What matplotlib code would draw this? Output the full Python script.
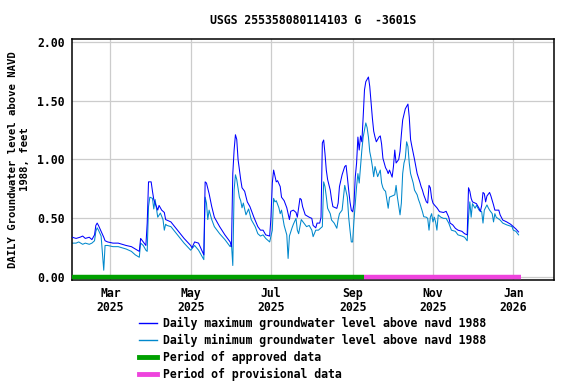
import matplotlib
matplotlib.use("Agg")
import matplotlib.pyplot as plt
from matplotlib.lines import Line2D
import pandas as pd

TITLE = "USGS 255358080114103 G  -3601S"
YLABEL = "DAILY Groundwater level above NAVD\n1988, feet"

# daily maximum
max_dates = [
    "2025-01-31", "2025-02-03", "2025-02-06", "2025-02-08", "2025-02-10", "2025-02-13",
    "2025-02-15", "2025-02-17", "2025-02-18", "2025-02-19", "2025-02-20", "2025-02-22",
    "2025-02-24", "2025-02-25", "2025-02-27", "2025-03-03", "2025-03-07", "2025-03-10",
    "2025-03-13", "2025-03-17", "2025-03-20", "2025-03-23", "2025-03-24", "2025-03-26",
    "2025-03-28", "2025-03-29", "2025-03-30", "2025-04-01", "2025-04-02", "2025-04-03",
    "2025-04-04", "2025-04-06", "2025-04-07", "2025-04-09", "2025-04-11", "2025-04-12",
    "2025-04-16", "2025-04-21", "2025-04-26", "2025-05-01", "2025-05-02", "2025-05-04",
    "2025-05-07", "2025-05-09", "2025-05-11", "2025-05-12", "2025-05-13", "2025-05-15",
    "2025-05-17", "2025-05-19", "2025-05-23", "2025-05-27", "2025-05-31", "2025-06-01",
    "2025-06-02", "2025-06-03", "2025-06-04", "2025-06-05", "2025-06-06", "2025-06-08",
    "2025-06-09", "2025-06-11", "2025-06-13", "2025-06-15", "2025-06-18", "2025-06-21",
    "2025-06-23", "2025-06-25", "2025-06-27", "2025-06-30", "2025-07-01", "2025-07-02",
    "2025-07-03", "2025-07-05", "2025-07-06", "2025-07-08", "2025-07-09", "2025-07-11",
    "2025-07-13", "2025-07-14", "2025-07-15", "2025-07-16", "2025-07-18", "2025-07-20",
    "2025-07-21", "2025-07-23", "2025-07-24", "2025-07-25", "2025-07-27", "2025-07-30",
    "2025-08-01", "2025-08-02", "2025-08-04", "2025-08-05", "2025-08-07", "2025-08-08",
    "2025-08-09", "2025-08-10", "2025-08-11", "2025-08-12", "2025-08-13", "2025-08-15",
    "2025-08-16", "2025-08-17", "2025-08-20", "2025-08-21", "2025-08-22", "2025-08-24",
    "2025-08-26", "2025-08-27", "2025-08-28", "2025-08-29", "2025-08-30", "2025-08-31",
    "2025-09-01", "2025-09-02", "2025-09-03", "2025-09-04", "2025-09-05", "2025-09-06",
    "2025-09-07", "2025-09-08", "2025-09-09", "2025-09-10", "2025-09-11", "2025-09-12",
    "2025-09-13", "2025-09-14", "2025-09-15", "2025-09-16", "2025-09-17", "2025-09-18",
    "2025-09-19", "2025-09-21", "2025-09-22", "2025-09-23", "2025-09-24", "2025-09-26",
    "2025-09-27", "2025-09-28", "2025-09-29", "2025-10-01", "2025-10-02", "2025-10-03",
    "2025-10-04", "2025-10-06", "2025-10-07", "2025-10-08", "2025-10-09", "2025-10-11",
    "2025-10-12", "2025-10-13", "2025-10-14", "2025-10-15", "2025-10-16", "2025-10-18",
    "2025-10-19", "2025-10-20", "2025-10-22", "2025-10-23", "2025-10-24", "2025-10-25",
    "2025-10-27", "2025-10-28", "2025-10-29", "2025-10-30", "2025-10-31", "2025-11-01",
    "2025-11-02", "2025-11-04", "2025-11-06", "2025-11-09", "2025-11-11", "2025-11-13",
    "2025-11-14", "2025-11-16", "2025-11-18", "2025-11-20", "2025-11-23", "2025-11-25",
    "2025-11-27", "2025-11-28", "2025-11-29", "2025-11-30", "2025-12-01", "2025-12-04",
    "2025-12-06", "2025-12-07", "2025-12-08", "2025-12-09", "2025-12-10", "2025-12-11",
    "2025-12-12", "2025-12-14", "2025-12-15", "2025-12-17", "2025-12-18", "2025-12-21",
    "2025-12-22", "2025-12-24", "2025-12-27", "2025-12-30", "2026-01-01", "2026-01-03",
    "2026-01-05",
]
max_vals = [
    0.34, 0.33, 0.34, 0.35, 0.33, 0.34,
    0.32, 0.36, 0.44, 0.46, 0.44, 0.39,
    0.34, 0.31, 0.30, 0.29, 0.29, 0.28,
    0.27, 0.26, 0.24, 0.22, 0.33, 0.30,
    0.27, 0.46, 0.81, 0.81, 0.73, 0.66,
    0.63, 0.57, 0.61, 0.57, 0.55, 0.49,
    0.47, 0.40, 0.33, 0.27, 0.25, 0.30,
    0.29, 0.24, 0.19, 0.81, 0.80, 0.71,
    0.60, 0.51, 0.43, 0.36, 0.30, 0.26,
    0.88, 1.08, 1.21, 1.17, 1.00, 0.83,
    0.76, 0.73, 0.64, 0.60, 0.51, 0.43,
    0.40, 0.40, 0.36, 0.35, 0.51, 0.80,
    0.91, 0.81, 0.82, 0.77, 0.68, 0.65,
    0.59, 0.54, 0.49, 0.56, 0.57, 0.55,
    0.51, 0.67, 0.66, 0.60, 0.53, 0.51,
    0.50, 0.44, 0.42, 0.46, 0.46, 0.51,
    1.14, 1.165, 1.05, 0.91, 0.83, 0.74,
    0.66, 0.60, 0.585, 0.63, 0.77, 0.87,
    0.94, 0.95, 0.85, 0.74, 0.64, 0.57,
    0.556, 0.62, 0.85, 0.97, 1.19, 1.08,
    1.20, 1.15, 1.36, 1.59, 1.66, 1.68,
    1.70, 1.62, 1.48, 1.35, 1.24, 1.19,
    1.15, 1.19, 1.20, 1.13, 1.01, 0.93,
    0.91, 0.88, 0.91, 0.85, 0.94, 1.08,
    0.97, 1.00, 1.07, 1.21, 1.335, 1.43,
    1.45, 1.47, 1.36, 1.17, 1.11, 1.00,
    0.94, 0.88, 0.81, 0.77, 0.74, 0.70,
    0.64, 0.63, 0.78, 0.76, 0.67, 0.63,
    0.615, 0.59, 0.557, 0.55, 0.56, 0.51,
    0.46, 0.445, 0.416, 0.40, 0.39, 0.37,
    0.36, 0.76, 0.73, 0.67, 0.64, 0.625,
    0.586, 0.557, 0.61, 0.72, 0.71, 0.64,
    0.69, 0.72, 0.69, 0.614, 0.57, 0.57,
    0.53, 0.486, 0.47, 0.45, 0.43, 0.41,
    0.385,
]

# daily minimum
min_dates = [
    "2025-01-31", "2025-02-03", "2025-02-05", "2025-02-08", "2025-02-10", "2025-02-13",
    "2025-02-15", "2025-02-17", "2025-02-18", "2025-02-19", "2025-02-20", "2025-02-22",
    "2025-02-23", "2025-02-24", "2025-02-25", "2025-02-27", "2025-03-03", "2025-03-07",
    "2025-03-10", "2025-03-13", "2025-03-17", "2025-03-20", "2025-03-23", "2025-03-24",
    "2025-03-26", "2025-03-28", "2025-03-29", "2025-03-30", "2025-03-31", "2025-04-02",
    "2025-04-03", "2025-04-04", "2025-04-06", "2025-04-08", "2025-04-10", "2025-04-11",
    "2025-04-12", "2025-04-13", "2025-04-16", "2025-04-21", "2025-04-26", "2025-05-01",
    "2025-05-04", "2025-05-07", "2025-05-09", "2025-05-11", "2025-05-12", "2025-05-13",
    "2025-05-14", "2025-05-15", "2025-05-17", "2025-05-19", "2025-05-23", "2025-05-27",
    "2025-05-31", "2025-06-01", "2025-06-02", "2025-06-03", "2025-06-04", "2025-06-05",
    "2025-06-07", "2025-06-08", "2025-06-09", "2025-06-10", "2025-06-12", "2025-06-14",
    "2025-06-16", "2025-06-19", "2025-06-21", "2025-06-23", "2025-06-25", "2025-06-27",
    "2025-06-30", "2025-07-02", "2025-07-03", "2025-07-04", "2025-07-05", "2025-07-07",
    "2025-07-08", "2025-07-09", "2025-07-11", "2025-07-13", "2025-07-14", "2025-07-15",
    "2025-07-17", "2025-07-18", "2025-07-20", "2025-07-21", "2025-07-22", "2025-07-24",
    "2025-07-26", "2025-07-28", "2025-07-30", "2025-08-01", "2025-08-02", "2025-08-04",
    "2025-08-06", "2025-08-09", "2025-08-10", "2025-08-11", "2025-08-12", "2025-08-13",
    "2025-08-15", "2025-08-16", "2025-08-18", "2025-08-20", "2025-08-21", "2025-08-22",
    "2025-08-24", "2025-08-26", "2025-08-28", "2025-08-29", "2025-08-30", "2025-08-31",
    "2025-09-01", "2025-09-02", "2025-09-03", "2025-09-04", "2025-09-05", "2025-09-06",
    "2025-09-07", "2025-09-08", "2025-09-09", "2025-09-11", "2025-09-12", "2025-09-13",
    "2025-09-14", "2025-09-15", "2025-09-16", "2025-09-17", "2025-09-18", "2025-09-19",
    "2025-09-20", "2025-09-22", "2025-09-23", "2025-09-24", "2025-09-25", "2025-09-26",
    "2025-09-27", "2025-09-28", "2025-09-29", "2025-10-01", "2025-10-03", "2025-10-04",
    "2025-10-05", "2025-10-07", "2025-10-08", "2025-10-09", "2025-10-10", "2025-10-11",
    "2025-10-12", "2025-10-13", "2025-10-14", "2025-10-15", "2025-10-17", "2025-10-18",
    "2025-10-20", "2025-10-21", "2025-10-22", "2025-10-24", "2025-10-25", "2025-10-27",
    "2025-10-28", "2025-10-29", "2025-10-30", "2025-10-31", "2025-11-01", "2025-11-02",
    "2025-11-03", "2025-11-04", "2025-11-05", "2025-11-07", "2025-11-09", "2025-11-11",
    "2025-11-13", "2025-11-15", "2025-11-18", "2025-11-20", "2025-11-23", "2025-11-25",
    "2025-11-27", "2025-11-28", "2025-11-29", "2025-11-30", "2025-12-01", "2025-12-03",
    "2025-12-04", "2025-12-06", "2025-12-08", "2025-12-09", "2025-12-10", "2025-12-12",
    "2025-12-13", "2025-12-14", "2025-12-16", "2025-12-17", "2025-12-18", "2025-12-19",
    "2025-12-22", "2025-12-24", "2025-12-27", "2025-12-31", "2026-01-01", "2026-01-03",
    "2026-01-05",
]
min_vals = [
    0.29, 0.29, 0.30, 0.28, 0.29, 0.28,
    0.29, 0.31, 0.39, 0.42, 0.40, 0.35,
    0.20, 0.06, 0.27, 0.27, 0.26, 0.26,
    0.25, 0.24, 0.22, 0.19, 0.17, 0.29,
    0.27, 0.23, 0.22, 0.60, 0.68, 0.67,
    0.58, 0.66, 0.51, 0.545, 0.49, 0.40,
    0.45, 0.44, 0.43, 0.36, 0.29, 0.23,
    0.27, 0.23, 0.19, 0.15, 0.68, 0.63,
    0.49, 0.57, 0.49, 0.43, 0.37, 0.32,
    0.26, 0.28, 0.10, 0.74, 0.87, 0.83,
    0.68, 0.65, 0.59, 0.63, 0.53, 0.58,
    0.49, 0.43, 0.37, 0.35, 0.36, 0.33,
    0.30, 0.40, 0.67, 0.64, 0.65, 0.59,
    0.54, 0.57, 0.44, 0.36, 0.16, 0.35,
    0.42, 0.45, 0.50, 0.40, 0.37, 0.49,
    0.46, 0.43, 0.44, 0.40, 0.345, 0.40,
    0.40, 0.43, 0.81, 0.77, 0.684, 0.586,
    0.54, 0.486, 0.46, 0.416, 0.49, 0.54,
    0.57, 0.78, 0.68, 0.51, 0.40, 0.30,
    0.30, 0.48, 0.63, 0.77, 0.88, 0.80,
    0.94, 1.08, 1.19, 1.31, 1.27, 1.19,
    1.066, 1.01, 0.94, 0.854, 0.94, 0.90,
    0.854, 0.91, 0.80, 0.76, 0.74, 0.73,
    0.656, 0.586, 0.68, 0.69, 0.70, 0.78,
    0.68, 0.53, 0.63, 0.88, 0.97, 1.01,
    1.15, 1.11, 0.97, 0.88, 0.80, 0.74,
    0.70, 0.66, 0.63, 0.557, 0.514, 0.51,
    0.50, 0.40, 0.51, 0.54, 0.47, 0.51,
    0.47, 0.40, 0.53, 0.51, 0.50, 0.50,
    0.46, 0.40, 0.39, 0.36, 0.35, 0.34,
    0.31, 0.51, 0.64, 0.51, 0.625, 0.586,
    0.61, 0.57, 0.557, 0.46, 0.57, 0.614,
    0.59, 0.57, 0.54, 0.47, 0.54, 0.51,
    0.486, 0.46, 0.445, 0.43, 0.40, 0.39,
    0.36,
]

approved_period = ["2025-01-31", "2025-09-10"]
provisional_period = ["2025-09-10", "2026-01-07"]

x_ticks = ["2025-03-01", "2025-05-01", "2025-07-01", "2025-09-01", "2025-11-01", "2026-01-01"]
x_ticklabels = ["Mar\n2025", "May\n2025", "Jul\n2025", "Sep\n2025", "Nov\n2025", "Jan\n2026"]
y_ticks = [0.0, 0.5, 1.0, 1.5, 2.0]

labels = [
    "Daily maximum groundwater level above navd 1988",
    "Daily minimum groundwater level above navd 1988",
    "Period of approved data",
    "Period of provisional data",
]

MAX_COLOR = "#0000ff"
MIN_COLOR = "#0088cc"
APPROVED_COLOR = "#00a000"
PROV_COLOR = "#ee44dd"

FONT = {"family": "DejaVu Sans Mono", "weight": "bold", "size": 8.3}
YFONT = {"family": "DejaVu Sans Mono", "weight": "bold", "size": 7.7}

plt.rcParams["font.family"] = "DejaVu Sans Mono"
plt.rcParams["font.weight"] = "bold"
plt.rcParams["font.size"] = 8.3


def main():
    fig = plt.figure(figsize=(5.76, 3.84), dpi=100)
    ax = fig.add_axes([71.7 / 576, 1 - 280 / 384, (554 - 71.7) / 576, (280 - 39.3) / 384])

    ax.plot(pd.to_datetime(max_dates), max_vals, color=MAX_COLOR, lw=0.75, zorder=3)
    ax.plot(pd.to_datetime(min_dates), min_vals, color=MIN_COLOR, lw=0.75, zorder=2)

    ax.plot(pd.to_datetime(approved_period), [0, 0], color=APPROVED_COLOR, lw=3.2,
            solid_capstyle="butt", zorder=4)
    ax.plot(pd.to_datetime(provisional_period), [0, 0], color=PROV_COLOR, lw=3.2,
            solid_capstyle="butt", zorder=4)

    ax.set_xlim(pd.Timestamp("2025-01-30 16:00"), pd.Timestamp("2026-01-31 22:00"))
    ax.set_ylim(-0.023, 2.02)

    ax.set_xticks(pd.to_datetime(x_ticks))
    ax.set_xticklabels(x_ticklabels, fontdict=FONT, linespacing=1.15)
    ax.set_yticks(y_ticks)
    ax.set_yticklabels(["%.2f" % v for v in y_ticks], fontdict=FONT)
    ax.tick_params(length=0, pad=5)

    ax.grid(True, color="#cccccc", lw=0.9)
    ax.set_axisbelow(True)
    for sp in ax.spines.values():
        sp.set_linewidth(1.1)
        sp.set_color("black")

    ax.set_title(TITLE, fontdict=FONT, pad=11)
    fig.text(19.5 / 576, 1 - 159.5 / 384, YLABEL, fontdict=YFONT, rotation=90,
             ha="center", va="center", multialignment="center", linespacing=1.25)

    handles = [
        Line2D([], [], color=MAX_COLOR, lw=1),
        Line2D([], [], color=MIN_COLOR, lw=1),
        Line2D([], [], color=APPROVED_COLOR, lw=3.5),
        Line2D([], [], color=PROV_COLOR, lw=3.5),
    ]
    fig.legend(handles, labels, loc="upper left", bbox_to_anchor=(139 / 576, 1 - 317 / 384),
               frameon=False, borderpad=0, borderaxespad=0, handlelength=1.55,
               handletextpad=0.55, labelspacing=0.33, prop=FONT)

    fig.savefig("out.png", dpi=100)


if __name__ == "__main__":
    main()
